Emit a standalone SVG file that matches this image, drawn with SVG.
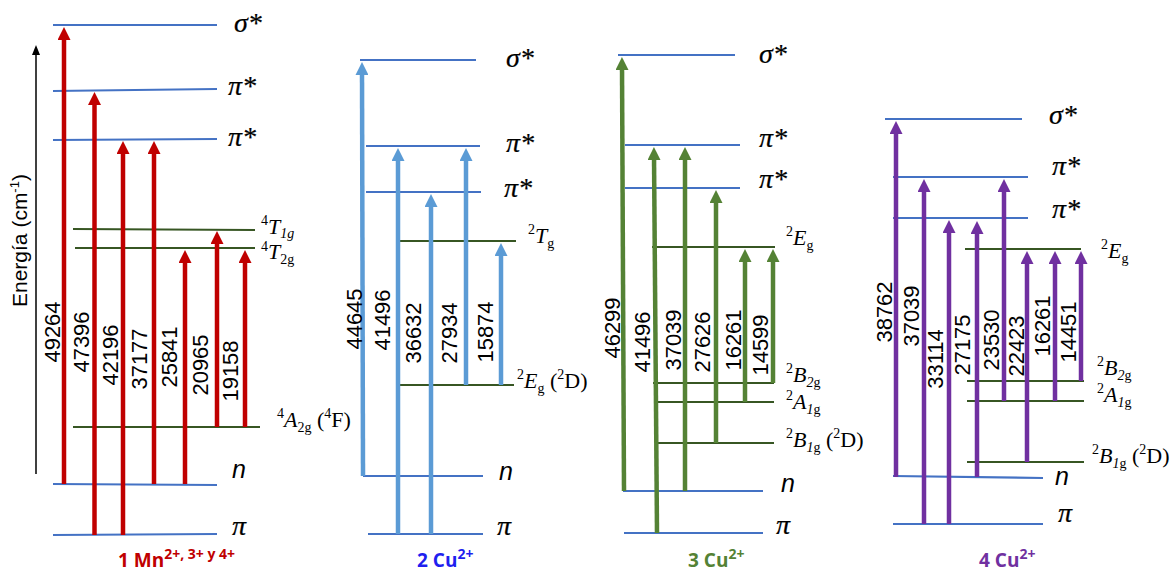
<svg xmlns="http://www.w3.org/2000/svg" width="1172" height="574" viewBox="0 0 1172 574">
<style>
.lvB{stroke:#4472C4;stroke-width:2.2}
.lvG{stroke:#375623;stroke-width:2.2}
.greek{font-family:"Liberation Serif",serif;font-style:italic;font-size:28px;fill:#000;stroke:#000;stroke-width:0.2}
.nlab{font-family:"Liberation Sans",sans-serif;font-style:italic;font-size:25px;fill:#000}
.term{font-family:"Liberation Serif",serif;font-size:22px;fill:#000}
.it{font-style:italic}
.sm{font-size:14px}
.num{font-family:"Liberation Sans",sans-serif;font-size:22px;text-anchor:middle;fill:#000}
.ar{stroke-width:4.5;fill:none}
.r{stroke:#C00000;marker-end:url(#mR)}
.b{stroke:#5B9BD5;marker-end:url(#mB)}
.g{stroke:#548235;marker-end:url(#mG)}
.p{stroke:#7030A0;marker-end:url(#mP)}
.title{font-family:"Open Sans","Liberation Sans",sans-serif;font-weight:700;font-size:19px}
.tsup{font-size:14px}
</style>
<defs>
<marker id="mR" markerUnits="userSpaceOnUse" markerWidth="13" markerHeight="13" refX="5" refY="6.5" orient="auto"><path d="M0,0 L13,6.5 L0,13 z" fill="#C00000"/></marker>
<marker id="mB" markerUnits="userSpaceOnUse" markerWidth="13" markerHeight="13" refX="5" refY="6.5" orient="auto"><path d="M0,0 L13,6.5 L0,13 z" fill="#5B9BD5"/></marker>
<marker id="mG" markerUnits="userSpaceOnUse" markerWidth="13" markerHeight="13" refX="5" refY="6.5" orient="auto"><path d="M0,0 L13,6.5 L0,13 z" fill="#548235"/></marker>
<marker id="mP" markerUnits="userSpaceOnUse" markerWidth="13" markerHeight="13" refX="5" refY="6.5" orient="auto"><path d="M0,0 L13,6.5 L0,13 z" fill="#7030A0"/></marker>
<marker id="mK" markerUnits="userSpaceOnUse" markerWidth="10" markerHeight="8" refX="2" refY="4" orient="auto"><path d="M0,0 L10,4 L0,8 z" fill="#000"/></marker>
</defs>
<rect width="1172" height="574" fill="#fff"/>

<g id="axis">
<line x1="36" y1="474" x2="36" y2="53" stroke="#000" stroke-width="1.5" marker-end="url(#mK)"/>
<text transform="translate(27,307) rotate(-90)" font-family="Liberation Sans, sans-serif" font-size="21">Energía (cm<tspan font-size="13" dy="-8">-1</tspan><tspan dy="8">)</tspan></text>
</g>

<!-- Panel 1 levels -->
<g id="p1-sigma"><line class="lvB" x1="53" y1="25" x2="217" y2="25"/><text class="greek" x="234" y="32">σ*</text></g>
<g id="p1-pi1"><line class="lvB" x1="53" y1="91" x2="217" y2="89"/><text class="greek" x="228" y="95">π*</text></g>
<g id="p1-pi2"><line class="lvB" x1="53" y1="140" x2="217" y2="139"/><text class="greek" x="228" y="146">π*</text></g>
<g id="p1-4T1g"><line class="lvG" x1="73" y1="229" x2="255" y2="230"/><text class="term" x="261" y="234"><tspan class="sm" dy="-9">4</tspan><tspan class="it" dy="9">T</tspan><tspan class="sm it" dy="4">1g</tspan></text></g>
<g id="p1-4T2g"><line class="lvG" x1="75" y1="248" x2="255" y2="248"/><text class="term" x="261" y="259"><tspan class="sm" dy="-8">4</tspan><tspan class="it" dy="8">T</tspan><tspan class="sm" dy="5">2g</tspan></text></g>
<g id="p1-4A2g"><line class="lvG" x1="73" y1="427" x2="260" y2="427"/><text class="term" x="277" y="427"><tspan class="sm" dy="-9">4</tspan><tspan class="it" dy="9">A</tspan><tspan class="sm" dy="5">2g</tspan><tspan dy="-5"> (</tspan><tspan class="sm" dy="-9">4</tspan><tspan dy="9">F)</tspan></text></g>
<g id="p1-n"><line class="lvB" x1="53" y1="484" x2="217" y2="485"/><text class="nlab" x="232" y="478">n</text></g>
<g id="p1-pi"><line class="lvB" x1="53" y1="535" x2="217" y2="534"/><text class="greek" x="232" y="535">π</text></g>

<!-- Panel 2 levels -->
<g id="p2-sigma"><line class="lvB" x1="360" y1="60" x2="476" y2="60"/><text class="greek" x="506" y="67">σ*</text></g>
<g id="p2-pi1"><line class="lvB" x1="366" y1="146" x2="480" y2="146"/><text class="greek" x="506" y="152">π*</text></g>
<g id="p2-pi2"><line class="lvB" x1="366" y1="192" x2="481" y2="192"/><text class="greek" x="504" y="197">π*</text></g>
<g id="p2-2Tg"><line class="lvG" x1="400" y1="241" x2="516" y2="241"/><text class="term" x="528" y="243"><tspan class="sm" dy="-9">2</tspan><tspan class="it" dy="9">T</tspan><tspan class="sm" dy="5">g</tspan></text></g>
<g id="p2-2Eg"><line class="lvG" x1="398" y1="385" x2="514" y2="385"/><text class="term" x="517" y="388"><tspan class="sm" dy="-9">2</tspan><tspan class="it" dy="9">E</tspan><tspan class="sm" dy="5">g</tspan><tspan dy="-5"> (</tspan><tspan class="sm" dy="-9">2</tspan><tspan dy="9">D)</tspan></text></g>
<g id="p2-n"><line class="lvB" x1="363" y1="476" x2="483" y2="476"/><text class="nlab" x="499" y="480">n</text></g>
<g id="p2-pi"><line class="lvB" x1="368" y1="534" x2="483" y2="534"/><text class="greek" x="497" y="535">π</text></g>

<!-- Panel 3 levels -->
<g id="p3-sigma"><line class="lvB" x1="618" y1="55" x2="735" y2="55"/><text class="greek" x="759" y="63">σ*</text></g>
<g id="p3-pi1"><line class="lvB" x1="625" y1="145" x2="740" y2="145"/><text class="greek" x="759" y="147">π*</text></g>
<g id="p3-pi2"><line class="lvB" x1="625" y1="188" x2="740" y2="188"/><text class="greek" x="759" y="188">π*</text></g>
<g id="p3-2Eg"><line class="lvG" x1="652" y1="247" x2="775" y2="247"/><text class="term" x="786" y="245"><tspan class="sm" dy="-9">2</tspan><tspan class="it" dy="9">E</tspan><tspan class="sm" dy="5">g</tspan></text></g>
<g id="p3-2B2g"><line class="lvG" x1="653" y1="383" x2="774" y2="383"/><text class="term" x="786" y="382"><tspan class="sm" dy="-9">2</tspan><tspan class="it" dy="9">B</tspan><tspan class="sm it" dy="5">2</tspan><tspan class="sm">g</tspan></text></g>
<g id="p3-2A1g"><line class="lvG" x1="656" y1="402" x2="774" y2="402"/><text class="term" x="786" y="409"><tspan class="sm" dy="-9">2</tspan><tspan class="it" dy="9">A</tspan><tspan class="sm it" dy="5">1</tspan><tspan class="sm">g</tspan></text></g>
<g id="p3-2B1g"><line class="lvG" x1="657" y1="443" x2="774" y2="443"/><text class="term" x="786" y="447"><tspan class="sm" dy="-9">2</tspan><tspan class="it" dy="9">B</tspan><tspan class="sm it" dy="5">1</tspan><tspan class="sm">g</tspan><tspan dy="-5"> (</tspan><tspan class="sm" dy="-9">2</tspan><tspan dy="9">D)</tspan></text></g>
<g id="p3-n"><line class="lvB" x1="623" y1="491" x2="763" y2="491"/><text class="nlab" x="781" y="492">n</text></g>
<g id="p3-pi"><line class="lvB" x1="624" y1="533" x2="763" y2="533"/><text class="greek" x="776" y="534">π</text></g>

<!-- Panel 4 levels -->
<g id="p4-sigma"><line class="lvB" x1="885" y1="119" x2="1022" y2="119"/><text class="greek" x="1049" y="124">σ*</text></g>
<g id="p4-pi1"><line class="lvB" x1="893" y1="177" x2="1028" y2="177"/><text class="greek" x="1052" y="175">π*</text></g>
<g id="p4-pi2"><line class="lvB" x1="893" y1="218" x2="1028" y2="218"/><text class="greek" x="1052" y="218">π*</text></g>
<g id="p4-2Eg"><line class="lvG" x1="965" y1="249" x2="1081" y2="249"/><text class="term" x="1101" y="258"><tspan class="sm" dy="-9">2</tspan><tspan class="it" dy="9">E</tspan><tspan class="sm" dy="5">g</tspan></text></g>
<g id="p4-2B2g"><line class="lvG" x1="967" y1="381" x2="1084" y2="381"/><text class="term" x="1097" y="375"><tspan class="sm" dy="-9">2</tspan><tspan class="it" dy="9">B</tspan><tspan class="sm it" dy="5">2</tspan><tspan class="sm">g</tspan></text></g>
<g id="p4-2A1g"><line class="lvG" x1="967" y1="401" x2="1084" y2="401"/><text class="term" x="1097" y="402"><tspan class="sm" dy="-9">2</tspan><tspan class="it" dy="9">A</tspan><tspan class="sm it" dy="5">1</tspan><tspan class="sm">g</tspan></text></g>
<g id="p4-2B1g"><line class="lvG" x1="967" y1="462" x2="1084" y2="462"/><text class="term" x="1092" y="463"><tspan class="sm" dy="-9">2</tspan><tspan class="it" dy="9">B</tspan><tspan class="sm it" dy="5">1</tspan><tspan class="sm">g</tspan><tspan dy="-5"> (</tspan><tspan class="sm" dy="-9">2</tspan><tspan dy="9">D)</tspan></text></g>
<g id="p4-n"><line class="lvB" x1="893" y1="476" x2="1043" y2="478"/><text class="nlab" x="1055" y="485">n</text></g>
<g id="p4-pi"><line class="lvB" x1="893" y1="524" x2="1043" y2="524"/><text class="greek" x="1058" y="522">π</text></g>

<!-- Transitions -->
<g id="connectors">
<line class="ar r" x1="64" y1="484" x2="64" y2="35"/>
<line class="ar r" x1="94.5" y1="535" x2="94.5" y2="100"/>
<line class="ar r" x1="123" y1="535" x2="123" y2="149"/>
<line class="ar r" x1="154" y1="484" x2="154" y2="149"/>
<line class="ar r" x1="185" y1="484" x2="185" y2="258"/>
<line class="ar r" x1="217" y1="427" x2="217" y2="239"/>
<line class="ar r" x1="245" y1="427" x2="245" y2="258"/>

<line class="ar b" x1="363" y1="476" x2="362" y2="70"/>
<line class="ar b" x1="398" y1="534" x2="398" y2="156"/>
<line class="ar b" x1="431" y1="534" x2="431" y2="202"/>
<line class="ar b" x1="466" y1="385" x2="466" y2="156"/>
<line class="ar b" x1="501" y1="385" x2="501" y2="251"/>

<line class="ar g" x1="624" y1="491" x2="622" y2="65"/>
<line class="ar g" x1="657" y1="533" x2="654" y2="155"/>
<line class="ar g" x1="685" y1="491" x2="685" y2="155"/>
<line class="ar g" x1="716" y1="443" x2="716" y2="198"/>
<line class="ar g" x1="745" y1="402" x2="745" y2="257"/>
<line class="ar g" x1="773" y1="383" x2="773" y2="257"/>

<line class="ar p" x1="896" y1="477" x2="896" y2="129"/>
<line class="ar p" x1="924" y1="524" x2="924" y2="187"/>
<line class="ar p" x1="949" y1="524" x2="949" y2="228"/>
<line class="ar p" x1="977" y1="477" x2="977" y2="229"/>
<line class="ar p" x1="1004" y1="401" x2="1004" y2="187"/>
<line class="ar p" x1="1027" y1="462" x2="1027" y2="259"/>
<line class="ar p" x1="1055" y1="401" x2="1055" y2="259"/>
<line class="ar p" x1="1081" y1="381" x2="1081" y2="259"/>

<g id="energies">
<text class="num" transform="translate(60,332) rotate(-90)">49264</text>
<text class="num" transform="translate(89,342) rotate(-90)">47396</text>
<text class="num" transform="translate(118,355) rotate(-90)">42196</text>
<text class="num" transform="translate(147,359) rotate(-90)">37177</text>
<text class="num" transform="translate(177,357) rotate(-90)">25841</text>
<text class="num" transform="translate(208,365) rotate(-90)">20965</text>
<text class="num" transform="translate(238,371) rotate(-90)">19158</text>

<text class="num" transform="translate(362,319) rotate(-90)">44645</text>
<text class="num" transform="translate(390,320) rotate(-90)">41496</text>
<text class="num" transform="translate(421,333) rotate(-90)">36632</text>
<text class="num" transform="translate(457,333) rotate(-90)">27934</text>
<text class="num" transform="translate(493,332) rotate(-90)">15874</text>

<text class="num" transform="translate(620,328) rotate(-90)">46299</text>
<text class="num" transform="translate(650,342) rotate(-90)">41496</text>
<text class="num" transform="translate(681,340) rotate(-90)">37039</text>
<text class="num" transform="translate(710,342) rotate(-90)">27626</text>
<text class="num" transform="translate(741,340) rotate(-90)">16261</text>
<text class="num" transform="translate(768,345) rotate(-90)">14599</text>

<text class="num" transform="translate(892,312) rotate(-90)">38762</text>
<text class="num" transform="translate(919,316) rotate(-90)">37039</text>
<text class="num" transform="translate(943,359) rotate(-90)">33114</text>
<text class="num" transform="translate(970,345) rotate(-90)">27175</text>
<text class="num" transform="translate(999,340) rotate(-90)">23530</text>
<text class="num" transform="translate(1024,346) rotate(-90)">22423</text>
<text class="num" transform="translate(1050,326) rotate(-90)">16261</text>
<text class="num" transform="translate(1076,332) rotate(-90)">14451</text>
</g>
</g>

<!-- Titles -->
<g id="title1"><text class="title" x="118" y="567" fill="#C00000">1 Mn<tspan class="tsup" dy="-8">2+, 3+ y 4+</tspan></text></g>
<g id="title2"><text class="title" x="417" y="567" fill="#1F1FEF">2 Cu<tspan class="tsup" dy="-8">2+</tspan></text></g>
<g id="title3"><text class="title" x="688" y="567" fill="#548235">3 Cu<tspan class="tsup" dy="-8">2+</tspan></text></g>
<g id="title4"><text class="title" x="979" y="567" fill="#7030A0">4 Cu<tspan class="tsup" dy="-8">2+</tspan></text></g>
</svg>
